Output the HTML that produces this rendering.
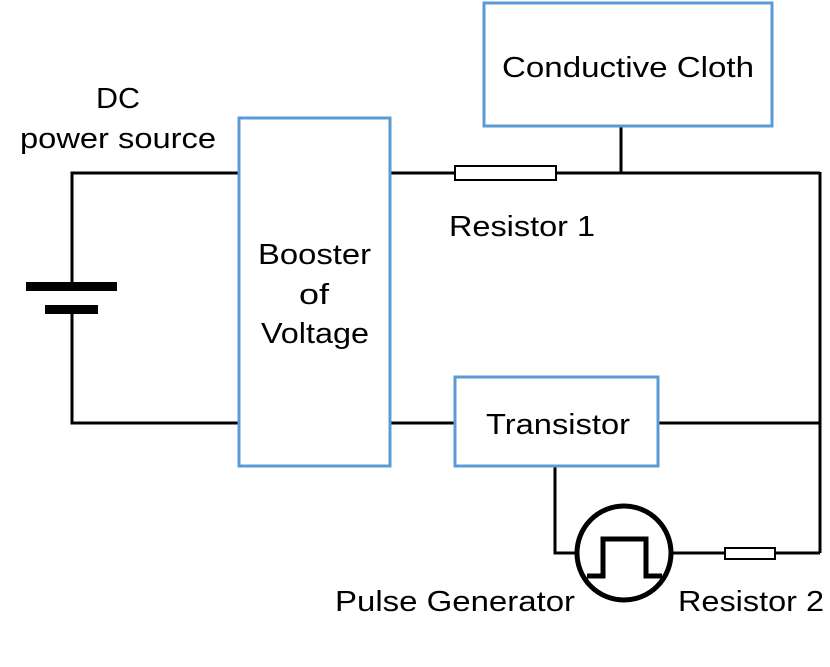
<!DOCTYPE html>
<html><head><style>body{margin:0;background:#fff}</style></head><body>
<svg width="830" height="667" xmlns="http://www.w3.org/2000/svg" style="display:block">
<g stroke="#000" stroke-width="3" fill="none">
<polyline points="239,173 72,173 72,284"/>
<polyline points="72,312 72,423 239,423"/>
<line x1="390" y1="173" x2="820" y2="173"/>
<line x1="621" y1="126" x2="621" y2="173"/>
<line x1="820" y1="172" x2="820" y2="553"/>
<line x1="390" y1="423" x2="455" y2="423"/>
<line x1="658" y1="423" x2="820" y2="423"/>
<polyline points="555,466 555,553 576,553"/>
<line x1="672" y1="553" x2="820" y2="553"/>
<circle cx="624" cy="553" r="47" stroke-width="5"/>
<polyline points="587,576 603,576 603,539 646,539 646,576 662,576" stroke-width="5"/>
</g>
<rect x="26" y="282" width="91" height="9" fill="#000"/>
<rect x="45" y="305" width="53" height="9" fill="#000"/>
<rect x="455" y="166" width="101" height="14" fill="#fff" stroke="#000" stroke-width="2"/>
<rect x="725" y="548" width="50" height="11" fill="#fff" stroke="#000" stroke-width="2"/>
<g fill="#fff" stroke="#5b9bd5" stroke-width="3">
<rect x="239" y="118" width="151" height="348"/>
<rect x="484" y="3" width="288" height="123"/>
<rect x="455" y="377" width="203" height="89"/>
</g>
<g font-family="Liberation Sans, sans-serif" font-size="29" fill="#000" lengthAdjust="spacingAndGlyphs">
<text x="96" y="108" textLength="44" lengthAdjust="spacingAndGlyphs">DC</text>
<text x="20" y="148" textLength="196" lengthAdjust="spacingAndGlyphs">power source</text>
<text x="258" y="264" textLength="113" lengthAdjust="spacingAndGlyphs">Booster</text>
<text x="299" y="304" textLength="30" lengthAdjust="spacingAndGlyphs">of</text>
<text x="261" y="343" textLength="108" lengthAdjust="spacingAndGlyphs">Voltage</text>
<text x="502" y="77" textLength="252" lengthAdjust="spacingAndGlyphs">Conductive Cloth</text>
<text x="449" y="236" textLength="146" lengthAdjust="spacingAndGlyphs">Resistor 1</text>
<text x="486" y="434" textLength="144" lengthAdjust="spacingAndGlyphs">Transistor</text>
<text x="335" y="611" textLength="240" lengthAdjust="spacingAndGlyphs">Pulse Generator</text>
<text x="678" y="611" textLength="146" lengthAdjust="spacingAndGlyphs">Resistor 2</text>
</g>
</svg>
</body></html>
